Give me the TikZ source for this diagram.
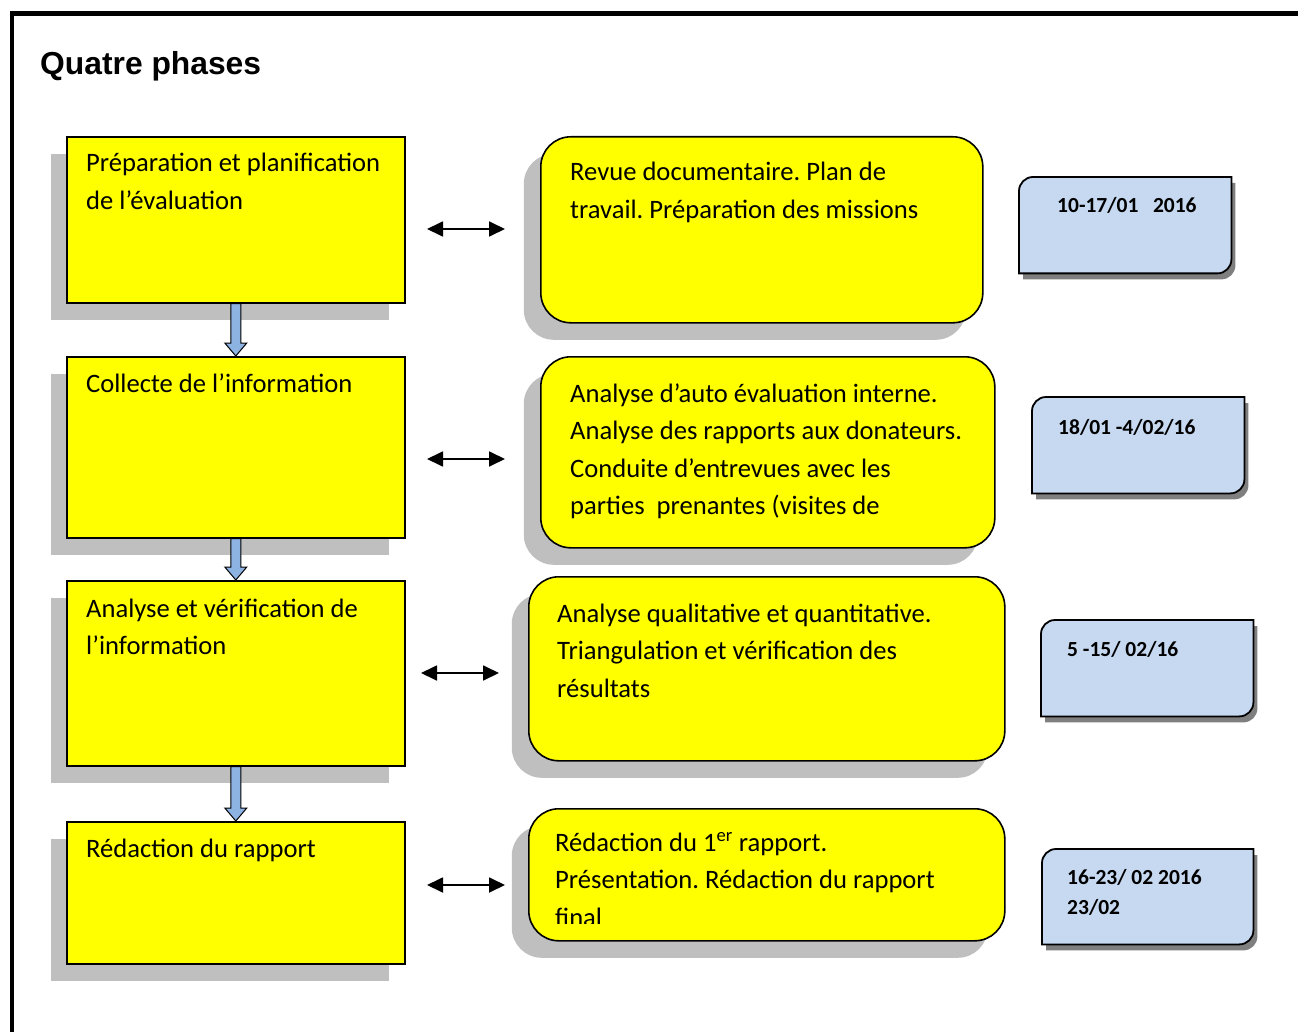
\documentclass[tikz,border=0pt]{standalone}
\usepackage{fontspec}
\setmainfont{Carlito}
\newfontfamily\titlefont{Liberation Sans}
\usetikzlibrary{calc,shadows,arrows.meta}
\definecolor{boxyellow}{HTML}{FFFF00}
\definecolor{shadowgray}{HTML}{BFBFBF}
\definecolor{datefill}{HTML}{C6D9F1}
\definecolor{dateshadow}{HTML}{7F7F7F}
\definecolor{arrowblue}{HTML}{8DB3E2}
\frenchspacing
\newcommand\boxlines[2]{\parbox[t]{#1}{\raggedright\frenchspacing #2}}
\newcommand\phasearrow[2]{%
  \filldraw[bluearr] ($(#1.south)+(-5,0)$) -- ($(#2.north)+(-5,-13)$) -- ($(#2.north)+(-11,-13)$) -- (#2.north) -- ($(#2.north)+(11,-13)$) -- ($(#2.north)+(5,-13)$) -- ($(#1.south)+(5,0)$) -- cycle;}
\newcommand\dateframe[1]{%
  \fill[dateshadow] let \p1=($(#1.north west)+(4,6)$), \p2=($(#1.south east)+(4,6)$) in
    (\x1,\y2) -- (\x1,\y1-14pt) .. controls (\x1,\y1-6.3pt) and (\x1+6.3pt,\y1) .. (\x1+14pt,\y1) -- (\x2,\y1) -- (\x2,\y2+14pt) .. controls (\x2,\y2+6.3pt) and (\x2-6.3pt,\y2) .. (\x2-14pt,\y2) -- cycle;
  \filldraw[dateline] let \p1=(#1.north west), \p2=(#1.south east) in
    (\x1,\y2) -- (\x1,\y1-14pt) .. controls (\x1,\y1-6.3pt) and (\x1+6.3pt,\y1) .. (\x1+14pt,\y1) -- (\x2,\y1) -- (\x2,\y2+14pt) .. controls (\x2,\y2+6.3pt) and (\x2-6.3pt,\y2) .. (\x2-14pt,\y2) -- cycle;}
\begin{document}
\begin{tikzpicture}[x=1pt,y=-1pt,
  phasebox/.style={draw=black, line width=1.6pt, fill=boxyellow, anchor=north west, inner sep=0,
    drop shadow={shadow xshift=-16pt, shadow yshift=-17pt, fill=shadowgray, opacity=1}},
  taskbox/.style={draw=black, line width=1.6pt, fill=boxyellow, anchor=north west, inner sep=0,
    rounded corners=30pt,
    drop shadow={shadow xshift=-17pt, shadow yshift=-17pt, fill=shadowgray, opacity=1}},
  datebox/.style={draw=none, anchor=north west, inner sep=0},
  dateline/.style={fill=datefill, draw=black, line width=1.8pt},
  bluearr/.style={fill=arrowblue, draw=black, line width=1pt},
  txt/.style={anchor=base west, inner sep=0, font=\fontsize{26.6}{37.5}\selectfont},
  datetxt/.style={anchor=base west, inner sep=0, font=\fontsize{21.5}{30}\selectfont\bfseries},
  dbl/.style={{Triangle[length=16pt,width=15pt]}-{Triangle[length=16pt,width=15pt]}, line width=1.8pt}]
\useasboundingbox (0,0) rectangle (1298,1032);
% outer frame
\draw[line width=4.5pt] (12,1032) -- (12,13.5) -- (1298,13.5);
\node[anchor=base west, inner sep=0, font=\titlefont\bfseries\fontsize{31.8}{38}\selectfont] (title) at (40,75) {Quatre phases};

% phase boxes
\node[phasebox, minimum width=338pt, minimum height=166pt] (p1) at (66,136) {};
\node[phasebox, minimum width=338pt, minimum height=181pt] (p2) at (66,356) {};
\node[phasebox, minimum width=338pt, minimum height=185pt] (p3) at (66,580) {};
\node[phasebox, minimum width=338pt, minimum height=142pt] (p4) at (66,821) {};

\node[txt] (p1t) at (86,172) {\boxlines{320pt}{Préparation et planification\\de l’évaluation}};
\node[txt] (p2t) at (86,392) {Collecte de l’information};
\node[txt] (p3t) at (86,617) {\boxlines{320pt}{Analyse et vérification de\\l’information}};
\node[txt] (p4t) at (86,857) {Rédaction du rapport};

\phasearrow{p1}{p2}
\phasearrow{p2}{p3}
\phasearrow{p3}{p4}

% task boxes
\node[taskbox, minimum width=442pt, minimum height=186pt] (r1) at (540,136) {};
\node[taskbox, minimum width=454pt, minimum height=191pt] (r2) at (540,356) {};
\node[taskbox, minimum width=476pt, minimum height=184pt] (r3) at (528,576) {};
\node[taskbox, minimum width=476pt, minimum height=132pt] (r4) at (528,808) {};

\node[txt] (r1t) at (570,181) {\boxlines{420pt}{Revue documentaire. Plan de\\travail. Préparation des missions}};
\node[txt] (r2t) at (570,402) {\boxlines{430pt}{Analyse d’auto évaluation interne.\\Analyse des rapports aux donateurs.\\Conduite d’entrevues avec les\\parties\ \ prenantes (visites de}};
\node[txt] (r3t) at (557,622) {\boxlines{440pt}{Analyse qualitative et quantitative.\\Triangulation et vérification des\\résultats}};
\node[txt] (r4t) at (555,851) {\boxlines{440pt}{Rédaction du 1\textsuperscript{er} rapport.\\Présentation. Rédaction du rapport}};
\begin{scope}
  \clip (528,808) rectangle (1004,923);
  \node[txt] (r4f) at (555,926) {final};
\end{scope}

% double arrows
\coordinate (a1l) at (427,229); \coordinate (a1r) at (505,229);
\coordinate (a2l) at (427,459); \coordinate (a2r) at (505,459);
\coordinate (a3l) at (421,673); \coordinate (a3r) at (499,673);
\coordinate (a4l) at (427,885); \coordinate (a4r) at (505,885);
\draw[dbl] (a1l) -- (a1r);
\draw[dbl] (a2l) -- (a2r);
\draw[dbl] (a3l) -- (a3r);
\draw[dbl] (a4l) -- (a4r);

% date boxes
\node[datebox, minimum width=212pt, minimum height=96pt] (d1) at (1019,177) {};
\node[datebox, minimum width=212pt, minimum height=96pt] (d2) at (1032,397) {};
\node[datebox, minimum width=212pt, minimum height=96pt] (d3) at (1041,620) {};
\node[datebox, minimum width=211pt, minimum height=95pt] (d4) at (1042,849) {};
\dateframe{d1}
\dateframe{d2}
\dateframe{d3}
\dateframe{d4}
\node[datetxt] (d1t) at (1057,213) {10-17/01\ \ \ 2016};
\node[datetxt] (d2t) at (1058,434) {18/01 -4/02/16};
\node[datetxt] (d3t) at (1067,656) {5 -15/ 02/16};
\node[datetxt] (d4t) at (1067,884) {\boxlines{180pt}{\fontsize{21.5}{30}\selectfont 16-23/ 02 2016\\23/02}};
\end{tikzpicture}
\end{document}
